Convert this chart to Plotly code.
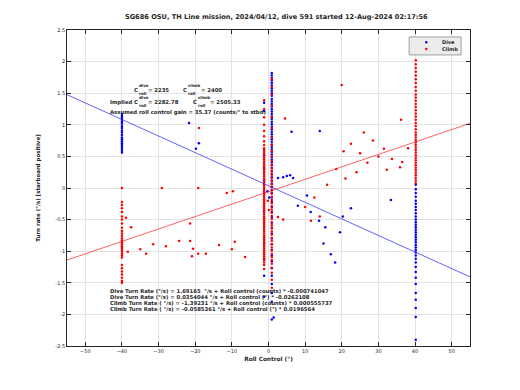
import plotly.graph_objects as go

# ---------------- data ----------------
title_text = "SG686 OSU, TH Line mission, 2024/04/12, dive 591 started 12-Aug-2024 02:17:56"

x_ticks = [-50, -40, -30, -20, -10, 0, 10, 20, 30, 40, 50]
y_ticks = [-2.5, -2, -1.5, -1, -0.5, 0, 0.5, 1, 1.5, 2, 2.5]

# Dive columns (roll control held constant)
dive_col_x = [-40.0, 0.9, -1.2, 40.2]
dive_col_y = [
    [1.17, 1.14, 1.11, 1.08, 1.05, 1.02, 0.98, 0.95, 0.91, 0.88, 0.84, 0.80, 0.77,
     0.74, 0.71, 0.68, 0.65, 0.62, 0.59, 0.56],
    [1.82, 1.78, 1.74, 1.70, 1.66, 1.62, 1.58, 1.54, 1.50, 1.46, 1.41, 1.37, 1.33,
     1.29, 1.25, 1.21, 1.17, 1.13, 1.09, 1.05, 1.01, 0.97, 0.93, 0.89, 0.85, 0.81,
     0.77, 0.73, 0.69, 0.65, 0.61, 0.57, 0.53, 0.49, 0.45, 0.41, 0.37, 0.32, 0.27,
     0.22, 0.17, 0.12, 0.07, 0.02, -0.03, -0.08, -0.15, -0.22, -0.30, -0.38, -0.46,
     -0.55, -0.63, -0.72, -0.80, -0.89, -0.98, -1.07, -1.16, -1.27, -1.39, -1.52,
     -1.66, -1.80, -2.08],
    [1.35, 1.22, 0.52, 0.31, 0.12, -0.08, -0.36, -0.87, -1.14, -1.39, -1.72],
    [0.05, -0.02, -0.08, -0.14, -0.2, -0.25, -0.30, -0.35, -0.40, -0.45, -0.50,
     -0.54, -0.58, -0.62, -0.66, -0.70, -0.74, -0.78, -0.82, -0.86, -0.90, -0.94,
     -0.98, -1.02, -1.07, -1.12, -1.18, -1.25, -1.33, -1.42, -1.52, -1.66, -1.77,
     -1.90, -2.04, -2.40],
]
# Dive scattered points
dive_sc_x = [-21.7, -19.0, -19.8, 6.3, 14.0, 2.6, 4.0, 5.0, 5.9, 6.7, 8.0, 11.5,
             13.8, 15.5, 15.0, 17.0, 18.2, 19.5, 20.3, 22.5, 33.4, 10.5, 1.4,
             -0.3, 0.2]
dive_sc_y = [1.03, 0.71, 0.62, 0.89, 0.90, 0.16, 0.17, 0.19, 0.20, 0.16, -0.28,
             -0.38, -0.52, -0.62, -0.88, -1.05, -1.18, -0.70, -0.45, -0.32, -0.19,
             -0.12, -2.05, -0.05, -0.15]

# Climb columns
climb_col_x = [-40.0, -1.2, 0.9, 40.2]
climb_col_y = [
    [0.0, -0.22, -0.27, -0.32, -0.38, -0.45, -0.50, -0.56, -0.63, -0.68, -0.72,
     -0.76, -0.80, -0.83, -0.86, -0.89, -0.92, -0.95, -0.98, -1.01, -1.04, -1.07,
     -1.10, -1.22, -1.27, -1.32, -1.37, -1.42, -1.47, -1.50],
    [1.39, 1.25, 1.12, 1.0, 0.90, 0.82, 0.74, 0.68, 0.63, 0.60, 0.57, 0.54, 0.51,
     0.48, 0.45, 0.42, 0.39, 0.36, 0.33, 0.30, 0.27, 0.24, 0.21, 0.18, 0.15, 0.12,
     0.09, 0.06, 0.03, 0.0, -0.03, -0.06, -0.09, -0.12, -0.15, -0.18, -0.21, -0.24,
     -0.27, -0.30, -0.33, -0.36, -0.39, -0.42, -0.45, -0.48, -0.51, -0.54, -0.57,
     -0.60, -0.63, -0.66, -0.69, -0.72, -0.75, -0.78, -0.81, -0.84, -0.87, -0.90,
     -0.93, -0.96, -0.99, -1.02, -1.05, -1.08, -1.11, -1.14, -1.18, -1.22, -1.28],
    [1.72, 1.60, 1.48, 1.30, 1.12, 0.95, 0.80, 0.68, 0.58, 0.50, 0.43, 0.36, 0.31,
     0.26, 0.21, 0.16, 0.11, 0.06, 0.01, -0.04, -0.09, -0.14, -0.19, -0.24, -0.29,
     -0.34, -0.39, -0.44, -0.49, -0.54, -0.59, -0.64, -0.69, -0.74, -0.79, -0.84,
     -0.89, -0.94, -0.99, -1.04, -1.09, -1.14, -1.20, -1.26, -1.34, -1.45, -1.58],
    [2.02, 1.96, 1.90, 1.84, 1.78, 1.72, 1.66, 1.60, 1.54, 1.48, 1.43, 1.38, 1.33,
     1.28, 1.23, 1.18, 1.13, 1.08, 1.03, 0.98, 0.93, 0.88, 0.84, 0.80, 0.76, 0.72,
     0.68, 0.64, 0.60, 0.56, 0.52, 0.48, 0.44, 0.40, 0.36, 0.32, 0.28, 0.24, 0.20,
     0.16, 0.12, 0.08],
]
# Climb scattered points
climb_sc_x = [-29.1, -19.2, -38.9, -37.5, -38.4, -35.0, -33.4, -31.5, -28.0, -24.4,
              -21.4, -21.4, -20.6, -20.9, -19.2, -17.1, -13.5, -11.4, -9.7, -10.0,
              -9.2, -6.4, -19.0, 4.5, 2.6, 4.0, 11.6, 20.0, 36.2, 31.5, 33.7, 32.3,
              36.5, 35.9, 38.1, 20.5, 22.5, 25.0, 27.0, 18.5, 24.0, 28.5, 21.0, 16.0,
              12.5, 10.0, 14.0, 26.0, 30.0, -0.2, 0.1]
climb_sc_y = [0.0, 0.0, -0.47, -0.62, -1.01, -0.97, -1.04, -0.89, -0.92, -0.84,
              -0.84, -0.56, -0.96, -1.08, -1.04, -1.04, -0.90, -0.08, -0.05, -0.97,
              -0.85, -1.09, 0.95, 1.10, -0.46, -0.50, -0.52, 1.63, 1.08, 0.62, 0.46,
              0.29, 0.41, 0.33, 0.63, 0.58, 0.70, 0.55, 0.40, 0.30, 0.25, 0.75, 0.15,
              0.05, -0.15, -0.30, -0.45, 0.88, 0.50, -0.2, -0.35]

# Regression fits (turn rate = intercept + slope * roll control)
dive_fit = (0.0354044, -0.0262108)
climb_fit = (-0.0585361, 0.0196564)
fit_x = [-55, 55]

legend_names = ["Dive", "Climb"]

# top-left text pieces: (text, x, y, kind)  kind: main / sup / sub
info_top = [
    ("C", -37.3, 1.55, "main"), ("dive", -36.0, 1.615, "sup"), ("roll", -36.0, 1.495, "sub"),
    ("= 2235", -33.4, 1.55, "main"),
    ("C", -23.9, 1.55, "main"), ("climb", -22.6, 1.615, "sup"), ("roll", -22.6, 1.495, "sub"),
    ("= 2400", -19.0, 1.55, "main"),
    ("Implied", -43.8, 1.36, "main"),
    ("C", -37.3, 1.36, "main"), ("dive", -36.0, 1.425, "sup"), ("roll", -36.0, 1.305, "sub"),
    ("= 2282.78", -33.4, 1.36, "main"),
    ("C", -21.2, 1.36, "main"), ("climb", -19.9, 1.425, "sup"), ("roll", -19.9, 1.305, "sub"),
    ("= 2505.33", -16.4, 1.36, "main"),
    ("Assumed roll control gain = 35.37 (counts/° to stbd)", -43.8, 1.20, "main"),
]
info_bottom = [
    "Dive Turn Rate (°/s) = 1.69165  °/s + Roll control (counts) * -0.000741047",
    "Dive Turn Rate (°/s) = 0.0354044 °/s + Roll control (°) * -0.0262108",
    "Climb Turn Rate ( °/s) = -1.39231 °/s + Roll control (counts) * 0.000555737",
    "Climb Turn Rate ( °/s) = -0.0585361 °/s + Roll control (°) * 0.0196564",
]
info_bottom_y = [-1.63, -1.725, -1.82, -1.915]

# ---------------- build ----------------
def expand(cols_x, cols_y, sc_x, sc_y):
    xs, ys = [], []
    for cx_, cy_ in zip(cols_x, cols_y):
        xs += [cx_] * len(cy_)
        ys += cy_
    return xs + sc_x, ys + sc_y

dx, dy = expand(dive_col_x, dive_col_y, dive_sc_x, dive_sc_y)
cx, cy = expand(climb_col_x, climb_col_y, climb_sc_x, climb_sc_y)

BLUE = "#0000ff"
RED = "#ff0000"
FONT = "DejaVu Sans"
TXT = "#262626"

fig = go.Figure()
fig.add_trace(go.Scatter(x=dx, y=dy, mode="markers", name=legend_names[0],
                         marker=dict(color=BLUE, size=2.5)))
fig.add_trace(go.Scatter(x=cx, y=cy, mode="markers", name=legend_names[1],
                         marker=dict(color=RED, size=2.5)))
fig.add_trace(go.Scatter(x=fit_x, y=[dive_fit[0] + dive_fit[1] * v for v in fit_x],
                         mode="lines", line=dict(color="#2020ff", width=0.7)))
fig.add_trace(go.Scatter(x=fit_x, y=[climb_fit[0] + climb_fit[1] * v for v in fit_x],
                         mode="lines", line=dict(color="#ff2020", width=0.7)))

ann = []
for txt, ax_, ay_, kind in info_top:
    size = 5.3 if kind == "main" else 4.0
    ann.append(dict(x=ax_, y=ay_, xref="x", yref="y", text="<b>" + txt + "</b>",
                    showarrow=False, xanchor="left", yanchor="middle",
                    font=dict(family=FONT, size=size, color=TXT)))
for txt, ay_ in zip(info_bottom, info_bottom_y):
    ann.append(dict(x=-43.8, y=ay_, xref="x", yref="y", text="<b>" + txt + "</b>",
                    showarrow=False, xanchor="left", yanchor="middle",
                    font=dict(family=FONT, size=5.3, color=TXT)))

# compact legend box (drawn manually, matching the small boxed legend)
shapes = [dict(type="rect", xref="paper", yref="paper", x0=0.849, x1=0.978,
               y0=0.921, y1=0.978, fillcolor="#ececec",
               line=dict(color="#8c8c8c", width=0.8), layer="above")]
leg_rows = [(0.961, BLUE), (0.940, RED)]
for (ly, col), name in zip(leg_rows, legend_names):
    shapes.append(dict(type="circle", xref="paper", yref="paper",
                       x0=0.8885, x1=0.8945, y0=ly - 0.004, y1=ly + 0.004,
                       fillcolor=col, line=dict(width=0), layer="above"))
    ann.append(dict(x=0.9265, y=ly, xref="paper", yref="paper", text="<b>" + name + "</b>",
                    showarrow=False, xanchor="left", yanchor="middle",
                    font=dict(family=FONT, size=5, color=TXT)))

axis_common = dict(showline=True, linecolor="#262626", linewidth=0.8, mirror="ticks",
                   ticks="inside", ticklen=4, tickcolor="#262626",
                   showgrid=True, gridcolor="#e3e3e3", gridwidth=0.8,
                   zeroline=False, tickfont=dict(family=FONT, size=5, color=TXT))

fig.update_layout(
    width=520, height=390,
    margin=dict(l=59, r=58, t=22, b=52),
    paper_bgcolor="white", plot_bgcolor="white",
    showlegend=False,
    title=dict(text="<b>" + title_text + "</b>", x=0.516, xanchor="center",
               yref="container", y=0.977, yanchor="middle",
               font=dict(family=FONT, size=6.6, color=TXT)),
    xaxis=dict(range=[-55, 55], tickvals=x_ticks,
               title=dict(text="<b>Roll Control (°)</b>", standoff=4,
                          font=dict(family=FONT, size=5.8, color=TXT)),
               **axis_common),
    yaxis=dict(range=[-2.5, 2.5], tickvals=y_ticks,
               ticktext=[("%g" % v) for v in y_ticks],
               title=dict(text="<b>Turn rate (°/s) [starboard positive]</b>", standoff=14,
                          font=dict(family=FONT, size=5.5, color=TXT)),
               **axis_common),
    annotations=ann,
    shapes=shapes,
)

fig.write_html("out.html")
